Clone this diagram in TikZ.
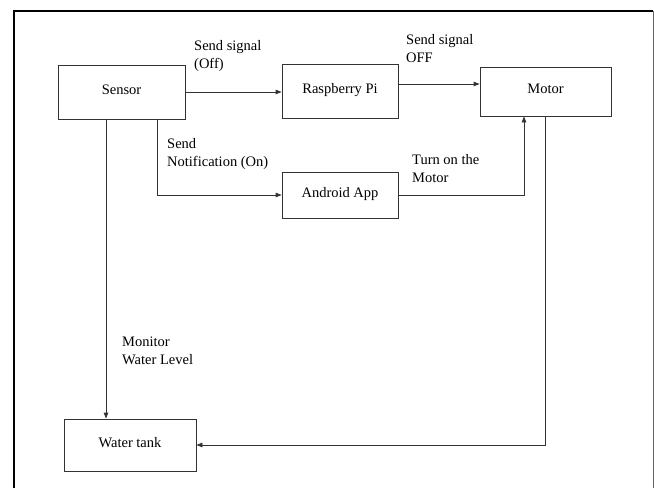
\documentclass[tikz,border=0pt]{standalone}
\usepackage{fontspec}
\setmainfont{Liberation Serif}
\usetikzlibrary{arrows.meta}

\begin{document}
\begin{tikzpicture}[x=1pt, y=-1pt,
  every node/.style={font=\fontsize{14.5}{18}\selectfont},
  block/.style={draw=black!80, line width=0.8pt, rectangle, inner sep=0pt, text height=10pt, text depth=6pt},
  arr/.style={draw=black!80, line width=0.8pt, -{Triangle[length=6pt,width=4.5pt]}},
  note/.style={anchor=north west, align=left, inner sep=0pt}]
\useasboundingbox (0,0) rectangle (654,488);

% Frame
\draw[line width=1.6pt] (14,488) -- (14,11) -- (653,11);
\draw[black!60, line width=0.8pt] (653,11) -- (653,488);

% Blocks
\node[block, minimum width=127pt, minimum height=54pt] (sensor) at (121.5,92) {Sensor};
\node[block, minimum width=116pt, minimum height=54pt] (rpi) at (340,91) {Raspberry Pi};
\node[block, minimum width=131pt, minimum height=49pt] (motor) at (545.5,91.5) {Motor};
\node[block, minimum width=116pt, minimum height=46pt] (app) at (340,195) {Android App};
\node[block, minimum width=132pt, minimum height=52pt] (tank) at (130,445) {Water tank};

% Connectors
\draw[arr] (sensor.east) -- (sensor.east -| rpi.west);
\draw[arr] ([yshift=7pt]rpi.east) -- ([yshift=7pt]rpi.east -| motor.west);
\draw[arr] ([xshift=35.5pt]sensor.south) |- (app.west);
\draw[arr] (app.east) -| ([xshift=-21.5pt]motor.south);
\draw[arr] ([xshift=-15.5pt]sensor.south) -- ([xshift=-15.5pt]sensor.south |- tank.north);
\draw[arr] (motor.south) |- (tank.east);

% Labels
\node[note] (lblrpi) at (194,40) {Send signal\\(Off)};
\node[note] (lblmotor) at (406,34) {Send signal\\OFF};
\node[note] (lblapp) at (167,138) {Send\\Notification (On)};
\node[note] (lblturn) at (412,154) {Turn on the\\Motor};
\node[note] (lbllevel) at (122,337) {Monitor\\Water Level};
\end{tikzpicture}
\end{document}
